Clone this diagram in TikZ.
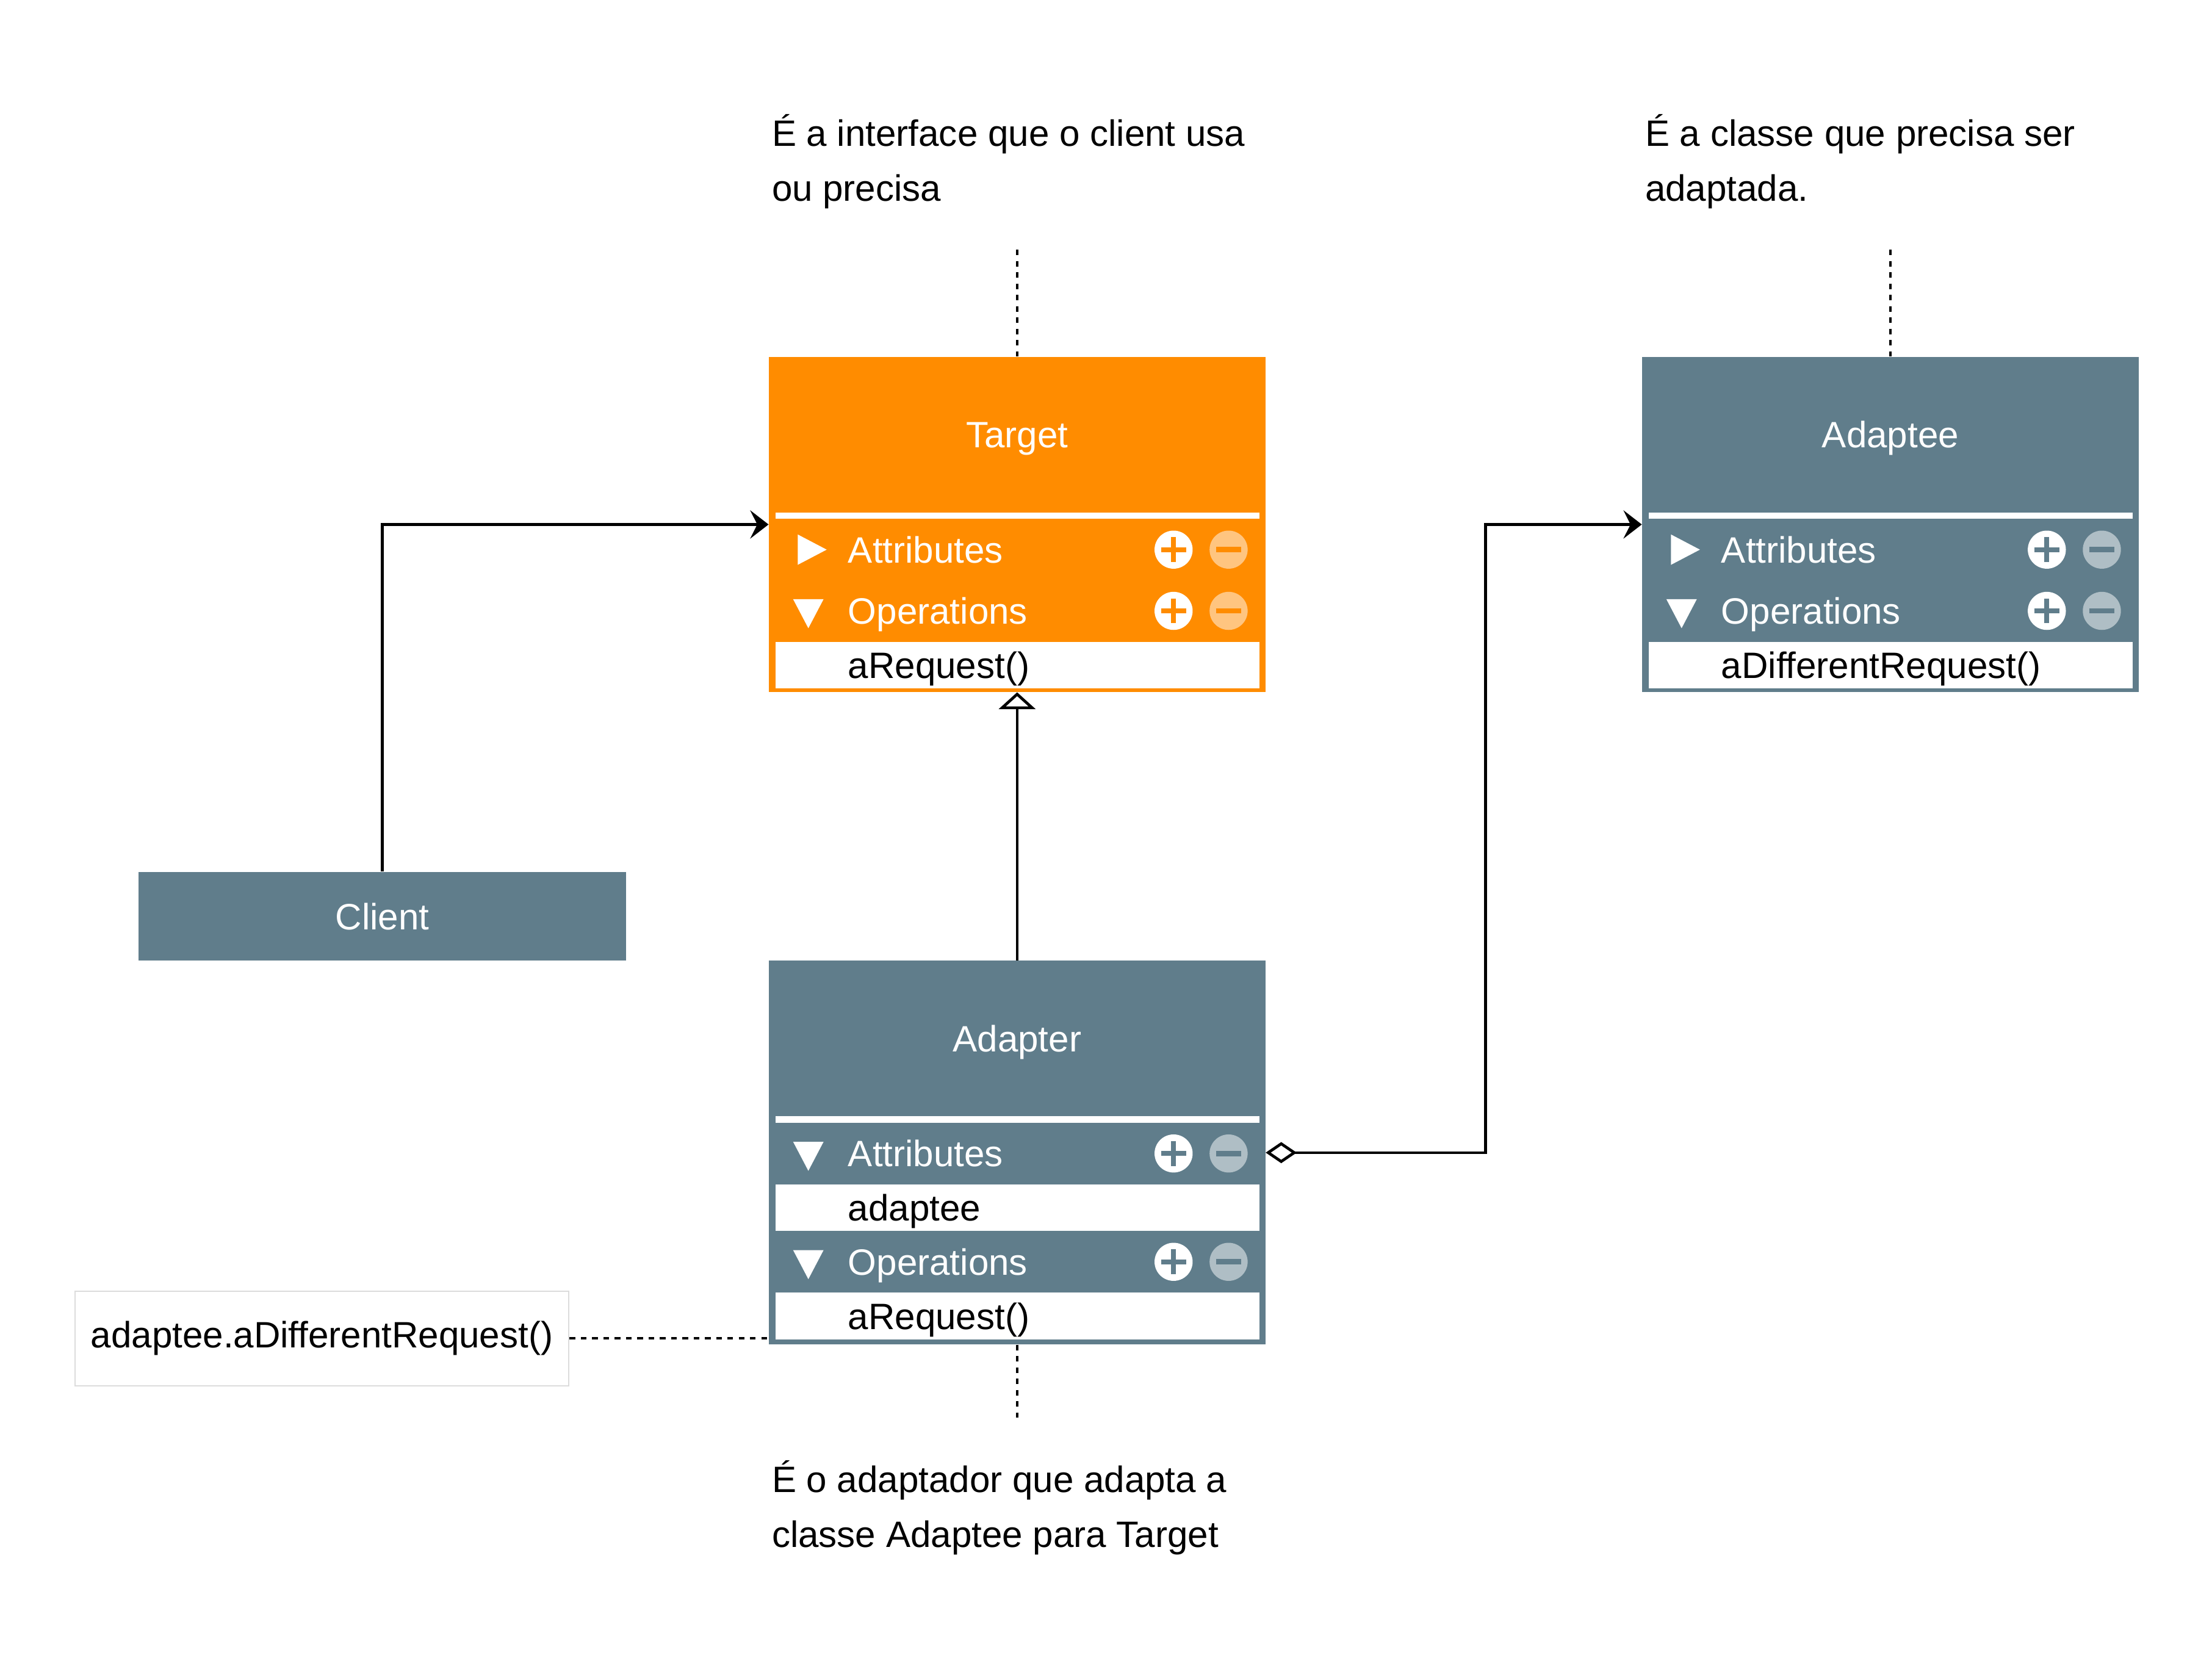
\documentclass[tikz,border=0pt]{standalone}
\usepackage{fontspec}
\setmainfont{Liberation Sans}
\usetikzlibrary{arrows.meta, positioning}
\definecolor{targetorange}{RGB}{255, 140, 0}
\definecolor{classslate}{RGB}{96, 125, 139}
\definecolor{notegray}{RGB}{220, 220, 220}

\begin{document}
\begin{tikzpicture}[
  x=1pt, y=-1pt,
  every node/.style={font=\fontsize{26}{39}\selectfont},
  classbox/.style={minimum width=352pt, inner sep=0pt},
  classname/.style={text=white, text height=18.6pt, text depth=0pt, inner sep=0pt},
  sepbar/.style={fill=white, minimum width=343pt, minimum height=4.5pt, inner sep=0pt, anchor=north west},
  secrow/.style={text=white, text width=240pt, align=left, inner xsep=51.5pt, inner ysep=0pt,
    minimum height=43pt, text height=18.6pt, text depth=0pt, anchor=north west},
  itemrow/.style={secrow, fill=white, text=black, minimum height=33pt},
  annot/.style={align=left, anchor=west, inner sep=0pt},
  noteline/.style={line width=1.8pt, dash pattern=on 4pt off 4pt},
  assoc/.style={line width=2pt, -{Stealth[length=13pt, width=20pt, inset=5pt]}},
  realize/.style={line width=2pt, -{Triangle[open, length=12pt, width=26pt]}},
  aggreg/.style={line width=2pt, {Diamond[open, length=22pt, width=15pt]}-{Stealth[length=13pt, width=20pt, inset=5pt]}},
  pics/rtri/.style={code={\fill[white] (-10pt,10.75pt) -- (10.5pt,0pt) -- (-10pt,-10.75pt) -- cycle;}},
  pics/dtri/.style={code={\fill[white] (-10.8pt,8.3pt) -- (10.8pt,8.3pt) -- (0pt,-12.3pt) -- cycle;}},
  pics/plusbtn/.style={code={
    \fill[white] (0,0) circle[radius=13.5pt];
    \fill[fill=#1] (-8.8pt,-1.75pt) rectangle (8.8pt,1.75pt);
    \fill[fill=#1] (-1.75pt,-8.8pt) rectangle (1.75pt,8.8pt);}},
  pics/minusbtn/.style={code={
    \fill[fill=#1!50!white] (0,0) circle[radius=13.5pt];
    \fill[fill=#1] (-8.8pt,-1.9pt) rectangle (8.8pt,1.9pt);}}
]
  \useasboundingbox (0,0) rectangle (1568,1183);

  % Target
  \node[classbox, fill=targetorange, minimum height=237.5pt] (target) at (721, 371.75) {};
  \node[classname] (target-name) at (721, 308) {Target};
  \node[sepbar] (target-sep) at (549.5, 363) {};
  \node[secrow, below right=0pt of target-sep.south west] (target-attr) {Attributes};
  \node[secrow, below right=0pt of target-attr.south west] (target-ops) {Operations};
  \node[itemrow, below right=0pt of target-ops.south west] (target-op1) {aRequest()};

  % Adaptee
  \node[classbox, fill=classslate, minimum height=237.5pt] (adaptee) at (1340, 371.75) {};
  \node[classname] (adaptee-name) at (1340, 308) {Adaptee};
  \node[sepbar] (adaptee-sep) at (1168.5, 363) {};
  \node[secrow, below right=0pt of adaptee-sep.south west] (adaptee-attr) {Attributes};
  \node[secrow, below right=0pt of adaptee-attr.south west] (adaptee-ops) {Operations};
  \node[itemrow, below right=0pt of adaptee-ops.south west] (adaptee-op1) {aDifferentRequest()};

  % Adapter
  \node[classbox, fill=classslate, minimum height=272pt] (adapter) at (721, 817) {};
  \node[classname] (adapter-name) at (721, 736) {Adapter};
  \node[sepbar] (adapter-sep) at (549.5, 791) {};
  \node[secrow, below right=0pt of adapter-sep.south west] (adapter-attr) {Attributes};
  \node[itemrow, below right=0pt of adapter-attr.south west] (adapter-at1) {adaptee};
  \node[secrow, below right=0pt of adapter-at1.south west] (adapter-ops) {Operations};
  \node[itemrow, below right=0pt of adapter-ops.south west] (adapter-op1) {aRequest()};

  % toggles and buttons
  \foreach \row in {target-attr, adaptee-attr}
    \pic at ([xshift=26pt]\row.west) {rtri};
  \foreach \row in {target-ops, adaptee-ops, adapter-attr, adapter-ops}
    \pic at ([xshift=23.5pt]\row.west) {dtri};
  \foreach \row/\col in {target-attr/targetorange, target-ops/targetorange,
      adaptee-attr/classslate, adaptee-ops/classslate,
      adapter-attr/classslate, adapter-ops/classslate} {
    \pic at ([xshift=-61pt]\row.east) {plusbtn=\col};
    \pic at ([xshift=-22pt]\row.east) {minusbtn=\col};
  }

  % Client and note
  \node[fill=classslate, text=white, minimum width=346pt, minimum height=63pt, inner sep=0pt,
    text height=18.6pt, text depth=0pt] (client) at (271, 649.5) {Client};
  \node[draw=notegray, line width=1pt, minimum width=350pt, minimum height=67pt, inner sep=0pt] (note)
    at (228.2, 948.7) {adaptee.aDifferentRequest()};

  % annotations
  \node[annot] (target-info) at (547, 114.5) {É a interface que o client usa\\ou precisa};
  \node[annot] (adaptee-info) at (1166, 114.5) {É a classe que precisa ser\\adaptada.};
  \node[annot] (adapter-info) at (547, 1068.5) {É o adaptador que adapta a\\classe Adaptee para Target};
  \coordinate (target-tag) at (721, 177);
  \coordinate (adaptee-tag) at (1340, 177);
  \coordinate (adapter-tag) at (721, 1005);
  \coordinate (adaptee-bend) at (1053, 817);

  % connectors
  \draw[assoc] (client.north) |- (target.west);
  \draw[realize] (adapter.north) -- (target.south);
  \draw[aggreg] (adapter.east) -- (adaptee-bend) |- (adaptee.west);
  \draw[noteline] (note.east) -- (note.east -| adapter.west);
  \draw[noteline] (target-tag) -- (target.north);
  \draw[noteline] (adaptee-tag) -- (adaptee.north);
  \draw[noteline] (adapter.south) -- (adapter-tag);
\end{tikzpicture}
\end{document}
